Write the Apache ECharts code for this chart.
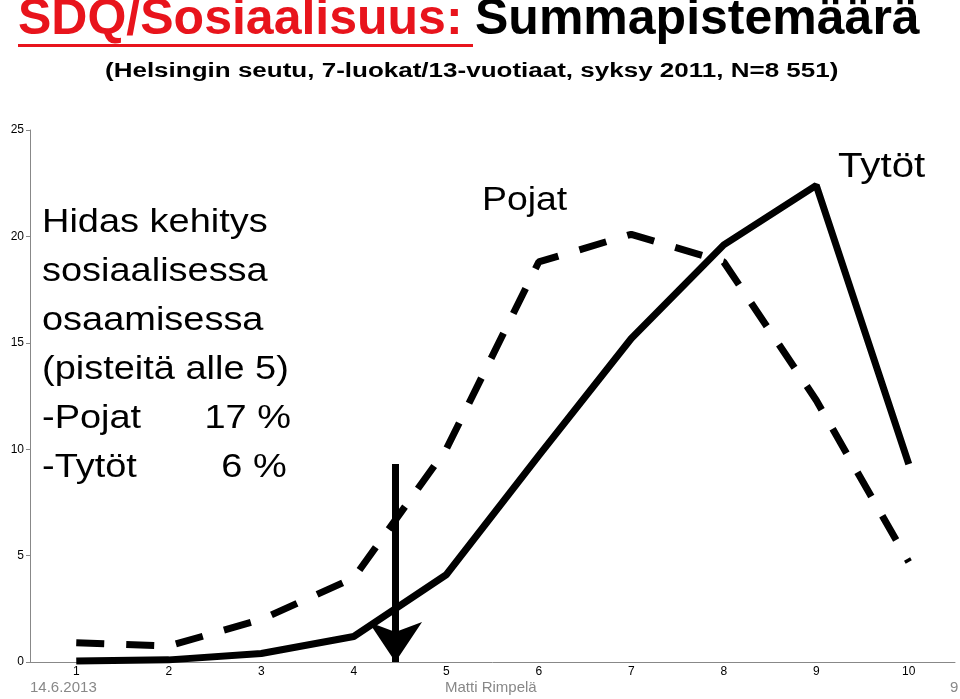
<!DOCTYPE html>
<html><head><meta charset="utf-8">
<script src="https://cdn.jsdelivr.net/npm/echarts@6/dist/echarts.min.js"></script>
<style>html,body{margin:0;padding:0;background:#fff}#c{width:960px;height:699px}</style>
</head><body><div id="c"></div>
<script>
const categories = ['1','2','3','4','5','6','7','8','9','10'];
const yTicks = [0,5,10,15,20,25];
const pojat = [0.9,0.75,2.0,3.95,10.0,18.8,20.1,18.8,12.3,4.7];
const tytot = [0.05,0.1,0.4,1.2,4.1,9.7,15.2,19.6,22.4,9.3];
const arrowX = 4.45, arrowTop = 9.3;

const chart = echarts.init(document.getElementById('c'));
const F = 'Liberation Sans, Arial, sans-serif';
chart.setOption({
  animation:false,
  grid:{left:30,right:5,top:130,bottom:37},
  xAxis:[{type:'category',data:categories,boundaryGap:true,
    axisLine:{lineStyle:{color:'#888'}},axisTick:{show:false},
    axisLabel:{color:'#000',fontSize:12,fontFamily:F,margin:4}},
    {type:'value',min:0.5,max:10.5,show:false}],
  yAxis:{type:'value',min:0,max:25,interval:5,
    axisLine:{show:true,lineStyle:{color:'#888'}},axisTick:{show:true,length:4,lineStyle:{color:'#888'}},
    splitLine:{show:false},axisLabel:{color:'#000',fontSize:12,fontFamily:F,margin:6}},
  series:[
    {name:'Pojat',type:'line',data:pojat,symbol:'none',lineStyle:{color:'#000',width:7,type:[28,22]}},
    {name:'Tytöt',type:'line',data:tytot,symbol:'none',lineStyle:{color:'#000',width:7}},
    {type:'line',xAxisIndex:1,data:[],markLine:{silent:true,symbol:['none','arrow'],symbolSize:[40,40],
      label:{show:false},lineStyle:{color:'#000',width:7,type:'solid'},
      data:[[{coord:[arrowX,arrowTop]},{coord:[arrowX,0]}]]}}
  ],
  graphic:[
    {type:'text',x:18,y:-5,style:{text:'SDQ/Sosiaalisuus:',fill:'#e8141c',font:'bold 50px '+F}},
    {type:'rect',shape:{x:18,y:44,width:455,height:3},style:{fill:'#e8141c'}},
    {type:'text',x:475,y:-5,style:{text:'Summapistemäärä',fill:'#000',font:'bold 50px '+F}},
    {type:'text',x:105,y:61,scaleX:1.3,style:{text:'(Helsingin seutu, 7-luokat/13-vuotiaat, syksy 2011, N=8 551)',fill:'#000',font:'bold 20px '+F}},
    {type:'text',x:42,y:198,scaleX:1.15,style:{text:'Hidas kehitys\nsosiaalisessa\nosaamisessa\n(pisteitä alle 5)\n-Pojat      17 %\n-Tytöt        6 %',fill:'#000',font:'33px '+F,lineHeight:49}},
    {type:'text',x:482,y:184,scaleX:1.1,style:{text:'Pojat',fill:'#000',font:'34px '+F}},
    {type:'text',x:838,y:150,scaleX:1.15,style:{text:'Tytöt',fill:'#000',font:'35px '+F}},
    {type:'text',x:30,y:680,style:{text:'14.6.2013',fill:'#888',font:'15px '+F}},
    {type:'text',x:445,y:680,style:{text:'Matti Rimpelä',fill:'#888',font:'15px '+F}},
    {type:'text',x:950,y:680,style:{text:'9',fill:'#888',font:'15px '+F}}
  ]
});
</script></body></html>
